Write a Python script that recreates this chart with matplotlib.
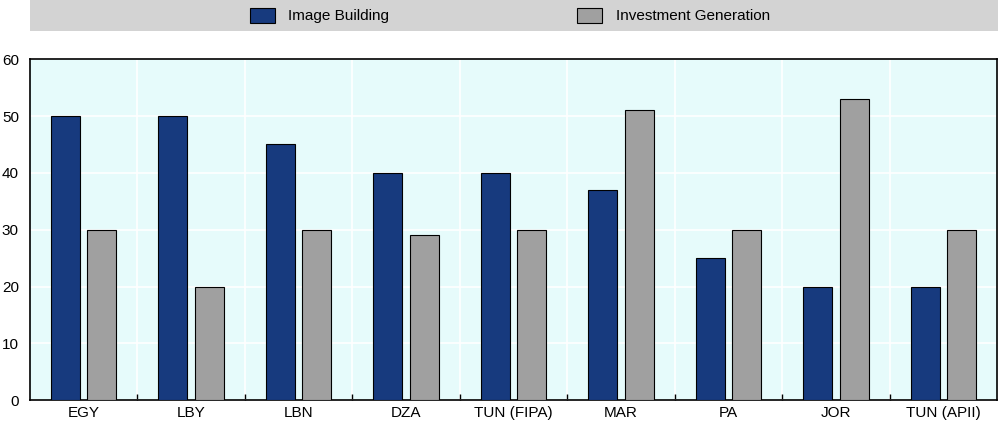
import numpy as np
import matplotlib.pyplot as plt
from matplotlib.patches import Rectangle

plt.rc('font', family=['Liberation Sans Narrow', 'Liberation Sans', 'DejaVu Sans'], size=11)

categories = ['EGY', 'LBY', 'LBN', 'DZA', 'TUN (FIPA)', 'MAR', 'PA', 'JOR', 'TUN (APII)']
image_building = [50, 50, 45, 40, 40, 37, 25, 20, 20]
investment_generation = [30, 20, 30, 29, 30, 51, 30, 53, 30]

blue = '#173A7E'
grey = '#A0A0A0'

fig = plt.figure(figsize=(10, 4.23), dpi=100)
ax = fig.add_axes([0.030, 0.054, 0.967, 0.806])
ax.set_facecolor('#E6FBFB')

x = np.arange(len(categories))
w = 0.27
ax.bar(x - 0.17, image_building, w, color=blue, edgecolor='black', linewidth=0.8,
       label='Image Building', zorder=3)
ax.bar(x + 0.17, investment_generation, w, color=grey, edgecolor='black', linewidth=0.8,
       label='Investment Generation', zorder=3)

ax.set_xlim(-0.5, len(categories) - 0.5)
ax.set_ylim(0, 60)
ax.set_yticks(np.arange(0, 61, 10))
ax.set_xticks(x)
ax.set_xticklabels(categories)
ax.set_xticks(x[:-1] + 0.5, minor=True)
ax.tick_params(axis='x', which='major', length=0, pad=4)
ax.tick_params(axis='x', which='minor', direction='in', length=4, width=1)
ax.tick_params(axis='y', length=0, pad=8)

ax.grid(axis='y', color='white', linewidth=1.2, zorder=0)
ax.grid(axis='x', which='minor', color='white', linewidth=1.2, zorder=0)
for s in ax.spines.values():
    s.set_linewidth(1.2)
    s.set_color('black')

# legend strip on top
fig.patches.append(Rectangle((0.030, 0.927), 0.968, 0.073, transform=fig.transFigure,
                             facecolor='#D3D3D3', edgecolor='none', zorder=0))
handles, labels = ax.get_legend_handles_labels()
fig.legend(handles, labels, loc='center', bbox_to_anchor=(0.51, 0.963), ncol=2,
           frameon=False, columnspacing=12.3, handlelength=1.6, handleheight=1.1,
           handletextpad=0.9, fontsize=11)

fig.savefig('out.png', dpi=100)
